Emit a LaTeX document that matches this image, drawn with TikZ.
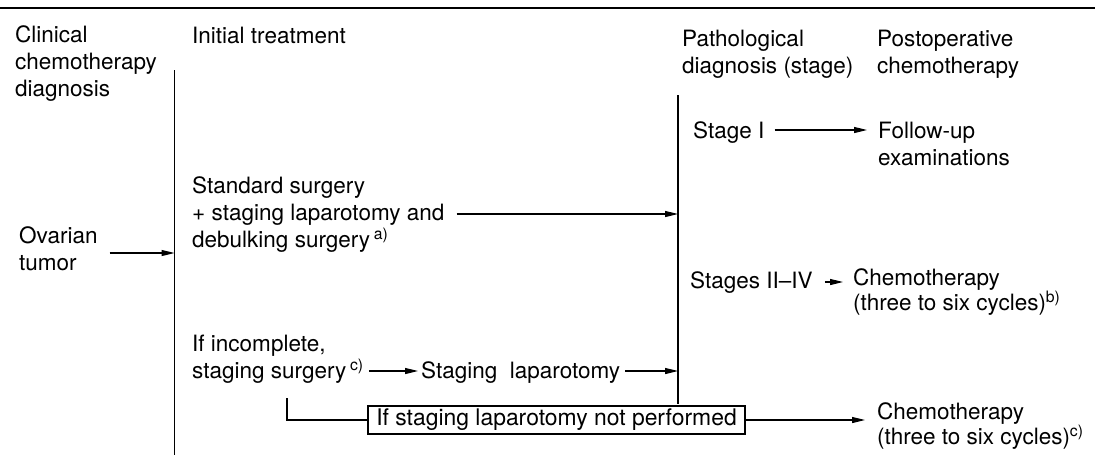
\documentclass[tikz,border=0pt]{standalone}
\usepackage{fontspec}
\setmainfont{TeX Gyre Heros}
\usetikzlibrary{arrows.meta}

\begin{document}
\begin{tikzpicture}[x=1pt,y=-1pt,
  txt/.style={anchor=base west,inner sep=0pt,align=left,font=\fontsize{22.5}{27}\selectfont},
  tight/.style={font=\fontsize{22.5}{22}\selectfont},
  bar/.style={line width=1.3pt},
  arr/.style={line width=1.2pt,-{Triangle[length=13pt,width=6pt]}},
  boxed/.style={draw,line width=1.2pt,inner sep=0pt,minimum width=377pt,minimum height=28pt,
    font=\fontsize{22.9}{24}\selectfont}]

\useasboundingbox (0,0) rectangle (1095,458);
\draw[line width=2.5pt] (0,8) -- (1095,8);

% column heads (base = last line)
\node[txt] at (15,96) (clin) {Clinical\\chemotherapy\\diagnosis};
\node[txt] at (192,43) (init) {Initial treatment};
\node[txt] at (682,73) (patho) {Pathological\\diagnosis (stage)};
\node[txt] at (877,73) (postop) {Postoperative\\chemotherapy};

% the two bars
\coordinate (bar1top) at (174.5,70);
\coordinate (bar1bot) at (174.5,455);
\coordinate (bar2top) at (678,95);
\coordinate (bar2bot) at (678,404);
\draw[bar] (bar1top) -- (bar1bot);
\draw[bar] (bar2top) -- (bar2bot);

%%%%%%%%%%%%%%%%%%%%%%%%%%%%%%%%%%%%%%
\node[txt] at (19,270) (tumor) {Ovarian\\tumor};
\coordinate (tumorout) at ([xshift=12pt,yshift=17pt]tumor.base east);
\draw[arr] (tumorout) -- (tumorout -| bar1top);

\node[txt] at (192,247) (standard) {Standard surgery\\+ staging laparotomy and\\debulking surgery\,\textsuperscript{a)}};
\coordinate (stdout) at ([xshift=12pt,yshift=33pt]standard.base east);
\draw[arr] (stdout) -- (stdout -| bar2top);

\node[txt] at (192,378) (incomplete) {If incomplete,\\staging surgery\,\textsuperscript{c)}};
\node[txt] at (421,378) (stlap) {Staging\ \ laparotomy};
\draw[arr] ([xshift=5pt,yshift=7pt]incomplete.base east) -- ([xshift=-3pt,yshift=7pt]stlap.base west);
\coordinate (lapout) at ([xshift=5pt,yshift=7pt]stlap.base east);
\draw[arr] (lapout) -- (lapout -| bar2top);

%%%%%%%%%%%%%%%%%%%%%%%%%%%%%%%%%%%%%%
\node[txt] at (693,138) (stageI) {Stage I};
\node[txt] at (878,165) (followup) {Follow-up\\examinations};
\coordinate (stIout) at ([xshift=10pt,yshift=8pt]stageI.base east);
\draw[arr,shorten >=11pt] (stIout) -- (stIout -| followup.west);

\node[txt] at (690,288) (stagesII) {Stages II--IV};
\node[txt,tight] at (853,310) (chemoB) {Chemotherapy\\(three to six cycles)\textsuperscript{b)}};
\coordinate (stIIout) at ([xshift=12pt,yshift=6pt]stagesII.base east);
\draw[arr,shorten >=10pt] (stIIout) -- (stIIout -| chemoB.west);

%%%%%%%%%%%%%%%%%%%%%%%%%%%%%%%%%%%%%%
\node[boxed] at (556.5,420) (notperf) {If staging laparotomy not performed};
\node[txt,tight] at (877,444) (chemoC) {Chemotherapy\\(three to six cycles)\textsuperscript{c)}};
\coordinate (lstart) at (287,398);
\draw[bar] (lstart) |- (notperf.west);
\draw[arr,shorten >=12pt] (notperf.east) -- (notperf.east -| chemoC.west);

\end{tikzpicture}
\end{document}
